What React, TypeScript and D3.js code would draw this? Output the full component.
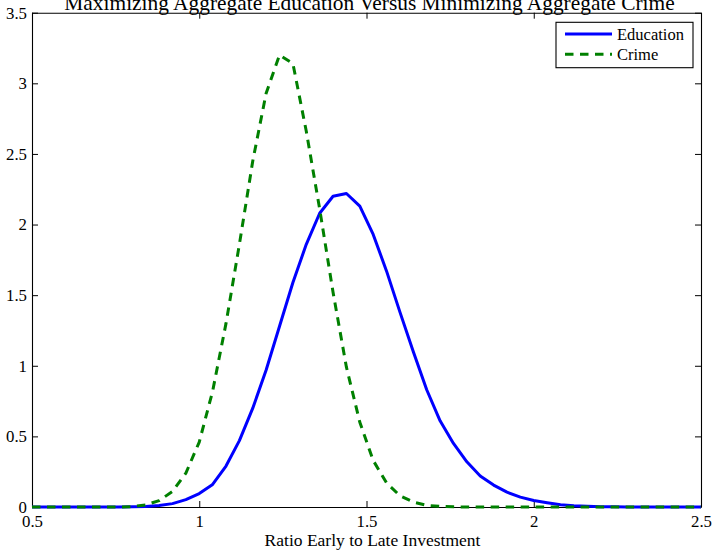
import React, { useRef, useEffect } from "react";
import { select, scaleLinear, line, axisBottom, axisLeft, axisTop, axisRight, format } from "d3";

// x positions of the computed grid (the curves are flat zero outside)
const ratio = [
  0.5, 0.76, 0.8, 0.84, 0.88, 0.92, 0.96, 1.0, 1.04, 1.08, 1.12, 1.16, 1.2, 1.24, 1.28, 1.32, 1.36,
  1.4, 1.44, 1.48, 1.52, 1.56, 1.6, 1.64, 1.68, 1.72, 1.76, 1.8, 1.84, 1.88, 1.92, 1.96, 2.0, 2.04,
  2.08, 2.12, 2.16, 2.2, 2.24, 2.28, 2.5,
];

const education = [
  0, 0, 0.001, 0.004, 0.01, 0.024, 0.052, 0.095, 0.16, 0.29, 0.47, 0.7, 0.97, 1.28, 1.59, 1.86, 2.08,
  2.2, 2.22, 2.13, 1.93, 1.67, 1.38, 1.1, 0.83, 0.61, 0.45, 0.32, 0.22, 0.155, 0.105, 0.07, 0.046, 0.03,
  0.016, 0.009, 0.005, 0.002, 0.001, 0, 0,
];

const crime = [
  0, 0, 0.003, 0.015, 0.045, 0.11, 0.24, 0.46, 0.82, 1.3, 1.86, 2.45, 2.93, 3.2, 3.14, 2.66, 2.11,
  1.52, 0.99, 0.6, 0.33, 0.17, 0.08, 0.035, 0.012, 0.004, 0.001, 0, 0, 0, 0, 0, 0, 0,
  0, 0, 0, 0, 0, 0, 0,
];

const xTicks = [0.5, 1, 1.5, 2, 2.5];
const yTicks = [0, 0.5, 1, 1.5, 2, 2.5, 3, 3.5];

const series = [
  { name: "Education", values: education, color: "#0000ff", dash: null },
  { name: "Crime", values: crime, color: "#008000", dash: "8.5,6.5" },
];

const W = 713;
const H = 551;
const FONT = "Liberation Serif, Times New Roman, serif";

export default function App() {
  const svgRef = useRef<SVGSVGElement>(null);

  useEffect(() => {
    const svg = select(svgRef.current!);
    svg.selectAll("*").remove();

    const margin = { top: 12.7, right: 12, bottom: 44, left: 32 };
    const x = scaleLinear().domain([0.5, 2.5]).range([margin.left, W - margin.right]);
    const y = scaleLinear().domain([0, 3.5]).range([H - margin.bottom, margin.top]);

    // axes, ticks pointing inward, box on all four sides
    const fmt = format("~g");
    const styleAxis = (g: any) => {
      g.attr("font-family", FONT).attr("font-size", 16.8);
      g.select(".domain").attr("stroke", "#000").attr("stroke-width", 1.1);
      g.selectAll(".tick line").attr("stroke", "#000");
      g.selectAll("text").attr("fill", "#000");
    };

    svg.append("g")
      .attr("transform", `translate(0,${y(0)})`)
      .call(axisBottom(x).tickValues(xTicks).tickFormat(fmt as any).tickSizeInner(-6).tickSizeOuter(0).tickPadding(8))
      .call(styleAxis);
    svg.append("g")
      .attr("transform", `translate(0,${y(3.5)})`)
      .call(axisTop(x).tickValues(xTicks).tickFormat(() => "").tickSizeInner(-6).tickSizeOuter(0))
      .call(styleAxis);
    svg.append("g")
      .attr("transform", `translate(${x(0.5)},0)`)
      .call(axisLeft(y).tickValues(yTicks).tickFormat(fmt as any).tickSizeInner(-6).tickSizeOuter(0).tickPadding(5))
      .call(styleAxis);
    svg.append("g")
      .attr("transform", `translate(${x(2.5)},0)`)
      .call(axisRight(y).tickValues(yTicks).tickFormat(() => "").tickSizeInner(-6).tickSizeOuter(0))
      .call(styleAxis);

    // curves
    const lineGen = line<number>()
      .x((_, i) => x(ratio[i]))
      .y((d) => y(d));

    series.forEach((s) => {
      svg.append("path")
        .datum(s.values)
        .attr("fill", "none")
        .attr("stroke", s.color)
        .attr("stroke-width", 3)
        .attr("stroke-linejoin", "round")
        .attr("stroke-dasharray", s.dash)
        .attr("d", lineGen);
    });

    // title (sits partly above the page edge, as in the source figure)
    svg.append("text")
      .attr("x", (x(0.5) + x(2.5)) / 2 + 3)
      .attr("y", 9.5)
      .attr("text-anchor", "middle")
      .attr("font-family", FONT)
      .attr("font-size", 21.4)
      .text("Maximizing Aggregate Education Versus Minimizing Aggregate Crime");

    // x label
    svg.append("text")
      .attr("x", (x(0.5) + x(2.5)) / 2 + 6)
      .attr("y", 546)
      .attr("text-anchor", "middle")
      .attr("font-family", FONT)
      .attr("font-size", 17.5)
      .text("Ratio Early to Late Investment");

    // legend
    const lg = svg.append("g").attr("transform", "translate(556,22.3)");
    lg.append("rect")
      .attr("width", 137)
      .attr("height", 45.4)
      .attr("fill", "#fff")
      .attr("stroke", "#000")
      .attr("stroke-width", 1.1);
    series.forEach((s, i) => {
      const cy = 11.7 + i * 20.3;
      lg.append("line")
        .attr("x1", 9)
        .attr("x2", 56)
        .attr("y1", cy)
        .attr("y2", cy)
        .attr("stroke", s.color)
        .attr("stroke-width", 3)
        .attr("stroke-dasharray", s.dash);
      lg.append("text")
        .attr("x", 61)
        .attr("y", cy + 5.8)
        .attr("font-family", FONT)
        .attr("font-size", 16.5)
        .text(s.name);
    });
  }, []);

  return (
    <svg
      ref={svgRef}
      width={W}
      height={H}
      style={{ position: "absolute", left: 0, top: 0, background: "#fff" }}
    />
  );
}
